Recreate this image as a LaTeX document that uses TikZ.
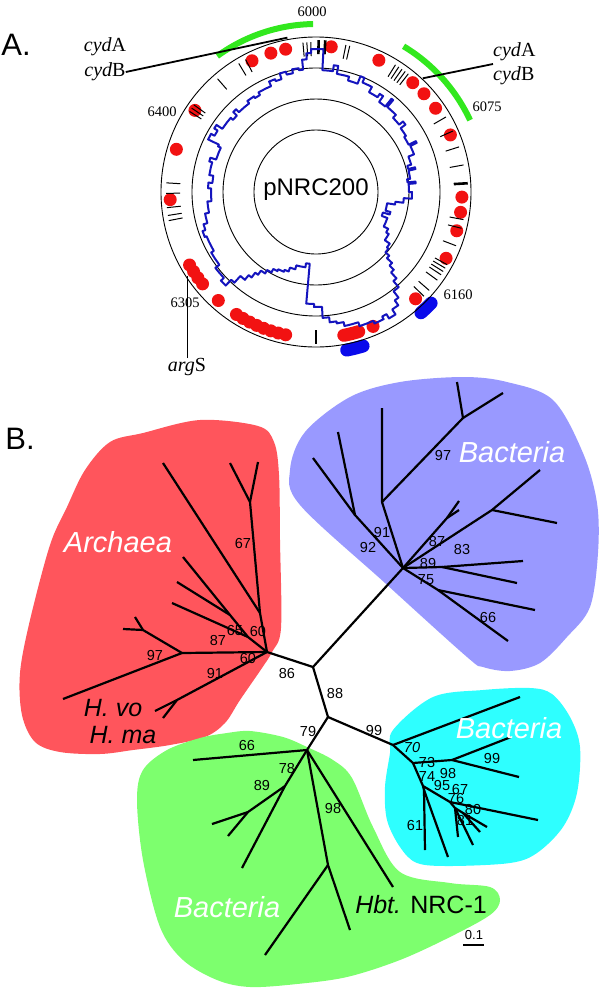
\documentclass[tikz,border=0pt]{standalone}
\usepackage{fontspec}
\setmainfont{Liberation Serif}
\newfontfamily\arialfont{Liberation Sans}
\usetikzlibrary{positioning}

\definecolor{archred}{RGB}{255,85,92}
\definecolor{bactblue}{RGB}{153,153,255}
\definecolor{bactcyan}{RGB}{46,255,255}
\definecolor{bactgreen}{RGB}{125,255,110}
\definecolor{dotred}{RGB}{242,18,18}
\definecolor{skewblue}{RGB}{20,20,190}
\definecolor{capblue}{RGB}{10,10,235}
\definecolor{genegreen}{RGB}{50,232,30}

\begin{document}
\begin{tikzpicture}
	[
	x=1pt, y=1pt,
	ring/.style = {line width=0.9pt},
	tickmark/.style = {line width=1pt},
	bigtick/.style = {line width=2.6pt},
	skew/.style = {skewblue, line width=2pt, line join=round},
	gene/.style = {genegreen, line width=6pt},
	coordlbl/.style = {font=\fontsize{14.5}{16}\selectfont, inner sep=0pt},
	gname/.style = {font=\fontsize{20}{24}\selectfont, inner sep=0pt},
	branch/.style = {line width=2.2pt},
	bs/.style = {font=\arialfont\fontsize{14.5}{16}\selectfont, inner sep=0pt},
	clade/.style = {font=\arialfont\itshape\fontsize{29}{32}\selectfont, text=white, inner sep=0pt},
	taxon/.style = {font=\arialfont\fontsize{25}{28}\selectfont, inner sep=0pt}
	]
	\useasboundingbox (0,0) rectangle (600,-989);

	% A. plasmid map
	\node[font=\arialfont\fontsize{31}{34}\selectfont, inner sep=0pt] (plA) at (16,-45) {A.};
	\begin{scope}[shift={(316,-192)}]
		\fill[white] (0,0) circle (155);
		\foreach \a in {116,108,102,84,64.5,48.5,42.3,35,23,-2,-8,-15.4,-27,-47,-67,146,163,183,-150,-147,-144,-141,-132,-123,-120,-117,-114,-111,-108,-105,-102}
			\fill[dotred] (\a:146) circle (6.5);
		\draw[dotred, line width=13pt, line cap=round] (-79:146) arc (-79:-73:146);
		\draw[capblue, line width=13pt, line cap=round] (-79:161) arc (-79:-73:161);
		\draw[capblue, line width=13pt, line cap=round] (-49:160) arc (-49:-44:160);
		\draw[ring] (0,0) circle (155) (0,0) circle (124) (0,0) circle (93) (0,0) circle (62);
		\foreach \a in {131,121,118,144.5,146,147.5,95,93.5,92,77,78.5,52,53.5,55,56.5,58,30,24,17.5,10.4,-10.6,-14,-21,-29,-30.5,-32,-33.5,-36,-41,-44,176.5,180.5,186,189,191}
			\draw[tickmark] (\a:136) -- (\a:150);
		\foreach \a in {3.3,-90,89,86.5}
			\draw[bigtick] (\a:138) -- (\a:152);
		\draw[gene] (91:168) arc (91:126:168);
		\draw[gene] (25:170) arc (25:59:170);
		\draw[skew] (90:143) \foreach \a/\r [remember=\r as \rl (initially 143)] in {88/143,87/122,84/122,82/128,80/120,76/120,74/116,71/116,69/124,67/119,64/119,62/113,59/113,57/117,55/110,52/110,51/120,50/111,46/111,44/107,41/107,39/112,37/106,34/106,32/104,29/104,27/112,26/105,23/105,21/99,18/99,16/95,14/102,13/95,10/95,8/92,6/100,5/93,2/93,0/96,-2/96,-4/88,-7/80,-9/72,-13/72,-15/77,-17/70,-20/76,-24/76,-27/81,-30/84,-33/84,-35/90,-38/92,-41/97,-43/104,-45/110,-47/118,-49/126,-52/134,-54/140,-57/146,-60/141,-62/144,-66/141,-69/141,-72/137,-75/137,-78/133,-81/131,-84/126,-86/126,-87/115,-91/112,-94/112,-95/72,-98/76,-102/76,-105/80,-109/84,-112/86,-116/88,-119/92,-122/96,-125/101,-127/107,-129/113,-132/122,-134/130,-137/126,-141/126,-143/121,-147/121,-150/118,-155/118,-158/120,-161/117,-164/113,-167/113,-169/109,-172/109,-175/105,-179/105,-182/108,-185/104,-189/108,-193/108,-196/111,-198/105,-202/105,-205/108,-206/120,-209/116,-212/120,-214/113,-218/113,-221/110,-224/115,-226/111,-230/111,-233/114,-237/112,-240/115,-244/115,-247/120,-250/118,-253/124,-256/121,-259/125,-262/123,-264/133,-266/139,-268/143,-270/143}
			{ -- (\a:\rl) -- (\a:\r) };
		\coordinate (cydlend) at (100.5:157);
		\coordinate (cydrend) at (46.8:156);
		\coordinate (argend) at (-146:150);
	\end{scope}
	\node[font=\arialfont\fontsize{24}{26}\selectfont, inner sep=0pt] (plasmid) at (316,-190) {pNRC200};
	\node[coordlbl] (p6000) at (312,-12) {6000};
	\node[coordlbl] (p6075) at (487,-107) {6075};
	\node[coordlbl] (p6400) at (162,-112) {6400};
	\node[coordlbl] (p6305) at (185,-303) {6305};
	\node[coordlbl] (p6160) at (458,-295) {6160};
	\node[gname] (cydAl) at (105,-47) {\textit{cyd}A};
	\node[gname] (cydBl) at (105,-72) {\textit{cyd}B};
	\node[gname, align=left, anchor=west] (cydr) at (493,-64) {\textit{cyd}A\\\textit{cyd}B};
	\node[gname] (args) at (187,-367) {\textit{arg}S};
	\draw[line width=1.8pt] (cydBl.east) -- (cydlend);
	\draw[line width=1.8pt] (cydr.west) -- (cydrend);
	\draw[line width=0.9pt] (args.north) -- (args.north |- argend);

	% B. tree
	\node[font=\arialfont\fontsize{31}{34}\selectfont, inner sep=0pt] (plB) at (20,-439) {B.};
	\fill[archred] plot[smooth cycle, tension=0.55] coordinates {(143,-433) (200,-420) (258,-426) (274,-442) (279,-475) (280,-540) (281,-628) (272,-652) (262,-668) (240,-700) (225,-723) (205,-737) (170,-745) (133,-750) (100,-754) (60,-752) (35,-742) (22,-715) (20,-673) (30,-620) (50,-545) (67,-507) (85,-470) (110,-442)};
	\fill[bactblue] plot[smooth cycle, tension=0.55] coordinates {(290,-470) (305,-432) (350,-397) (400,-382) (463,-377) (507,-382) (553,-400) (583,-453) (597,-503) (598,-553) (590,-607) (567,-637) (540,-663) (510,-671) (483,-667) (467,-657) (385,-583) (300,-505)};
	\fill[bactcyan] plot[smooth cycle, tension=0.55] coordinates {(393,-730) (433,-697) (483,-690) (530,-688) (552,-694) (570,-717) (580,-747) (577,-793) (563,-827) (537,-853) (510,-863) (450,-866) (417,-863) (400,-847) (387,-820) (385,-787) (390,-753)};
	\fill[bactgreen] plot[smooth cycle, tension=0.55] coordinates {(167,-750) (200,-738) (227,-733) (250,-731) (283,-737) (307,-747) (333,-760) (352,-778) (373,-827) (400,-872) (450,-883) (490,-887) (500,-900) (490,-915) (450,-937) (400,-960) (347,-977) (297,-984) (250,-987) (217,-980) (183,-960) (160,-927) (143,-860) (137,-800) (143,-770)};

	% inner nodes
	\coordinate (j86) at (313,-667);
	\coordinate (j88) at (328,-717);
	\coordinate (harch) at (267,-652);
	\coordinate (hblue) at (403,-568);
	\coordinate (hcyan) at (393,-745);
	\coordinate (hgreen) at (307,-750);
	\draw[branch] (harch) -- (j86) -- (hblue);
	\draw[branch] (j86) -- (j88) -- (hcyan);
	\draw[branch] (j88) -- (hgreen);

	% Archaea
	\coordinate (a60) at (260,-613);
	\coordinate (a67) at (250,-502);
	\coordinate (a87) at (248,-637);
	\coordinate (a65) at (230,-615);
	\coordinate (a97) at (182,-653);
	\coordinate (a97b) at (143,-630);
	\coordinate (a91) at (177,-700);
	\draw[branch] (harch) -- (a60) -- (a67) -- (230,-463);
	\draw[branch] (a67) -- (258,-462);
	\draw[branch] (a60) -- (163,-463);
	\draw[branch] (harch) -- (a87) -- (a65) -- (183,-557);
	\draw[branch] (a65) -- (177,-582);
	\draw[branch] (a87) -- (172,-603);
	\draw[branch] (harch) -- (a97) -- (a97b) -- (123,-629);
	\draw[branch] (a97b) -- (135,-617);
	\draw[branch] (a97) -- (63,-699);
	\draw[branch] (harch) -- (a91) -- (155,-711);
	\draw[branch] (a91) -- (163,-718);

	% Bacteria, blue
	\coordinate (b91) at (382,-502);
	\coordinate (b97) at (463,-418);
	\coordinate (b92) at (355,-515);
	\coordinate (b87) at (447,-518);
	\coordinate (b83) at (492,-510);
	\coordinate (b89) at (442,-567);
	\coordinate (b75) at (438,-590);
	\draw[branch] (hblue) -- (b91) -- (382,-408);
	\draw[branch] (b91) -- (b97) -- (457,-382);
	\draw[branch] (b97) -- (503,-393);
	\draw[branch] (hblue) -- (b92) -- (338,-432);
	\draw[branch] (b92) -- (313,-458);
	\draw[branch] (hblue) -- (b87) -- (459,-501);
	\draw[branch] (b87) -- (459,-510);
	\draw[branch] (hblue) -- (b83) -- (540,-470);
	\draw[branch] (b83) -- (557,-523);
	\draw[branch] (hblue) -- (b89) -- (523,-561);
	\draw[branch] (b89) -- (517,-583);
	\draw[branch] (hblue) -- (b75) -- (535,-610);
	\draw[branch] (b75) -- (508,-641);

	% Bacteria, cyan
	\coordinate (c73) at (413,-763);
	\coordinate (c99) at (452,-760);
	\coordinate (c74) at (423,-786);
	\coordinate (c61) at (424,-790);
	\coordinate (c95) at (450,-802);
	\coordinate (c76) at (455,-808);
	\coordinate (c80) at (463,-813);
	\draw[branch] (hcyan) -- (520,-697);
	\draw[branch] (hcyan) -- (c73) -- (c99) -- (511,-737);
	\draw[branch] (c99) -- (519,-777);
	\draw[branch] (c73) -- (c74) -- (c61) -- (425,-850);
	\draw[branch] (c61) -- (448,-857);
	\draw[branch] (c74) -- (c95) -- (538,-820);
	\draw[branch] (c95) -- (c76) -- (458,-837);
	\draw[branch] (c76) -- (473,-845);
	\draw[branch] (c76) -- (c80) -- (480,-832);
	\draw[branch] (c80) -- (487,-827);

	% Bacteria, green
	\coordinate (g78) at (285,-786);
	\coordinate (g89) at (248,-812);
	\coordinate (ghbt) at (328,-865);
	\draw[branch] (hgreen) -- (193,-760);
	\draw[branch] (hgreen) -- (g78) -- (242,-868);
	\draw[branch] (g78) -- (g89) -- (212,-824);
	\draw[branch] (g89) -- (228,-836);
	\draw[branch] (hgreen) -- (ghbt) -- (350,-930);
	\draw[branch] (ghbt) -- (265,-955);
	\draw[branch] (hgreen) -- (393,-887);

	% bootstrap values
	\node[bs] (s67a) at (243,-543) {67};
	\node[bs] (s65a) at (235,-630) {65};
	\node[bs] (s60a) at (258,-631) {60};
	\node[bs] (s87a) at (218,-640) {87};
	\node[bs] (s97a) at (155,-655) {97};
	\node[bs] (s60b) at (248,-658) {60};
	\node[bs] (s91a) at (215,-673) {91};
	\node[bs] (s86) at (287,-673) {86};
	\node[bs] (s97b) at (443,-455) {97};
	\node[bs] (s91b) at (382,-532) {91};
	\node[bs] (s92) at (368,-547) {92};
	\node[bs] (s87b) at (437,-541) {87};
	\node[bs] (s83) at (462,-549) {83};
	\node[bs] (s89b) at (428,-563) {89};
	\node[bs] (s75) at (426,-580) {75};
	\node[bs] (s66b) at (488,-617) {66};
	\node[bs] (s88) at (335,-693) {88};
	\node[bs] (s99a) at (374,-730) {99};
	\node[bs] (s79) at (308,-731) {79};
	\node[bs, font=\arialfont\itshape\fontsize{14.5}{16}\selectfont] (s70) at (412,-747) {70};
	\node[bs] (s73) at (427,-762) {73};
	\node[bs] (s99b) at (492,-758) {99};
	\node[bs] (s74) at (427,-777) {74};
	\node[bs] (s98c) at (448,-773) {98};
	\node[bs] (s95) at (442,-785) {95};
	\node[bs] (s67c) at (460,-789) {67};
	\node[bs] (s76) at (456,-798) {76};
	\node[bs] (s80) at (473,-809) {80};
	\node[bs] (s81) at (465,-820) {81};
	\node[bs] (s61) at (415,-825) {61};
	\node[bs] (s66g) at (247,-745) {66};
	\node[bs] (s78) at (287,-768) {78};
	\node[bs] (s89g) at (262,-785) {89};
	\node[bs] (s98g) at (333,-808) {98};

	% clade names
	\node[clade] (archaea) at (118,-542) {Archaea};
	\node[clade] (bacblue) at (512,-452) {Bacteria};
	\node[clade] (baccyan) at (509,-728) {Bacteria};
	\node[clade] (bacgreen) at (227,-907) {Bacteria};
	\node[taxon, font=\arialfont\itshape\fontsize{25}{28}\selectfont] (hvo) at (113,-708) {H. vo};
	\node[taxon, font=\arialfont\itshape\fontsize{25}{28}\selectfont] (hma) at (123,-735) {H. ma};
	\node[taxon] (hbt) at (421,-905) {\textit{Hbt.} NRC-1};

	% scale bar
	\node[bs, font=\arialfont\fontsize{13}{15}\selectfont] (scl) at (474,-935) {0.1};
	\coordinate (sclL) at (463,-945);
	\coordinate (sclR) at (484,-945);
	\draw[line width=2pt] (sclL) -- (sclR);
\end{tikzpicture}
\end{document}
